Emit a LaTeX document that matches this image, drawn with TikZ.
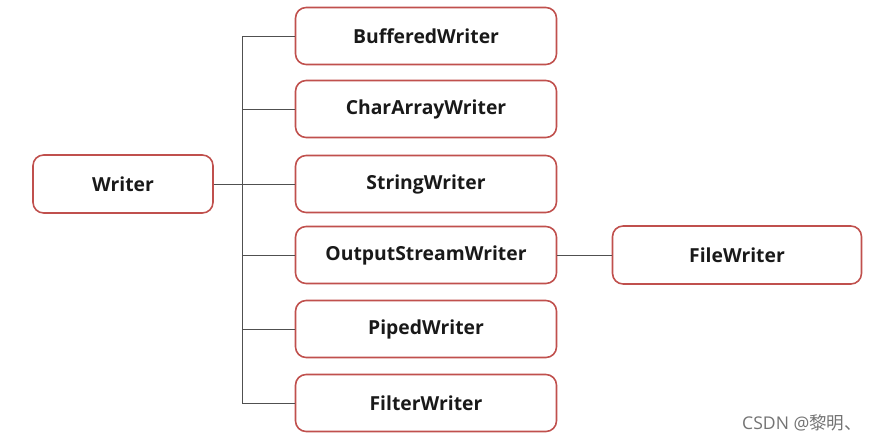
\documentclass[tikz,border=0pt]{standalone}
\usepackage{fontspec}
\setmainfont{Open Sans}
\newfontfamily\cjkfont{Noto Sans CJK SC}
\definecolor{boxred}{RGB}{192,80,77}
\definecolor{linegray}{RGB}{80,80,80}
\tikzset{
  classbox/.style={draw=boxred, line width=0.9pt, rounded corners=6pt, fill=white,
    font=\fontsize{11}{13}\selectfont\bfseries, text=black!90},
  wide/.style={classbox, minimum width=5.22cm, minimum height=1.14cm},
  link/.style={draw=linegray, line width=0.5pt}
}
\begin{document}
\begin{tikzpicture}[x=0.02cm, y=-0.02cm]
\useasboundingbox (0,0) rectangle (891,444);

% root
\node[classbox, minimum width=3.6cm, minimum height=1.16cm] (writer) at (123,184) {Writer};

% subclasses
\node[wide] (buffered) at (426,36) {BufferedWriter};
\node[wide] (chararray) at (426,109) {CharArrayWriter};
\node[wide] (string) at (426,184) {StringWriter};
\node[wide] (outstream) at (426,255) {OutputStreamWriter};
\node[wide] (piped) at (426,329) {PipedWriter};
\node[wide] (filter) at (426,403) {FilterWriter};

% sub-subclass
\node[classbox, minimum width=4.98cm, minimum height=1.16cm] (filewriter) at (737,255) {FileWriter};

% connectors
\coordinate (trunk) at (242,0);
\draw[link] (writer.east) -- (string.west);
\draw[link] (trunk |- buffered.west) -- (trunk |- filter.west);
\foreach \n in {buffered,chararray,string,outstream,piped,filter}
  \draw[link] (trunk |- \n.west) -- (\n.west);
\draw[link] (outstream.east) -- (filewriter.west);

% watermark
\node[anchor=west, text=black!55, font=\fontsize{10}{12}\selectfont] (mark) at (736,423) {CSDN @{\cjkfont 黎明、}};
\end{tikzpicture}
\end{document}
